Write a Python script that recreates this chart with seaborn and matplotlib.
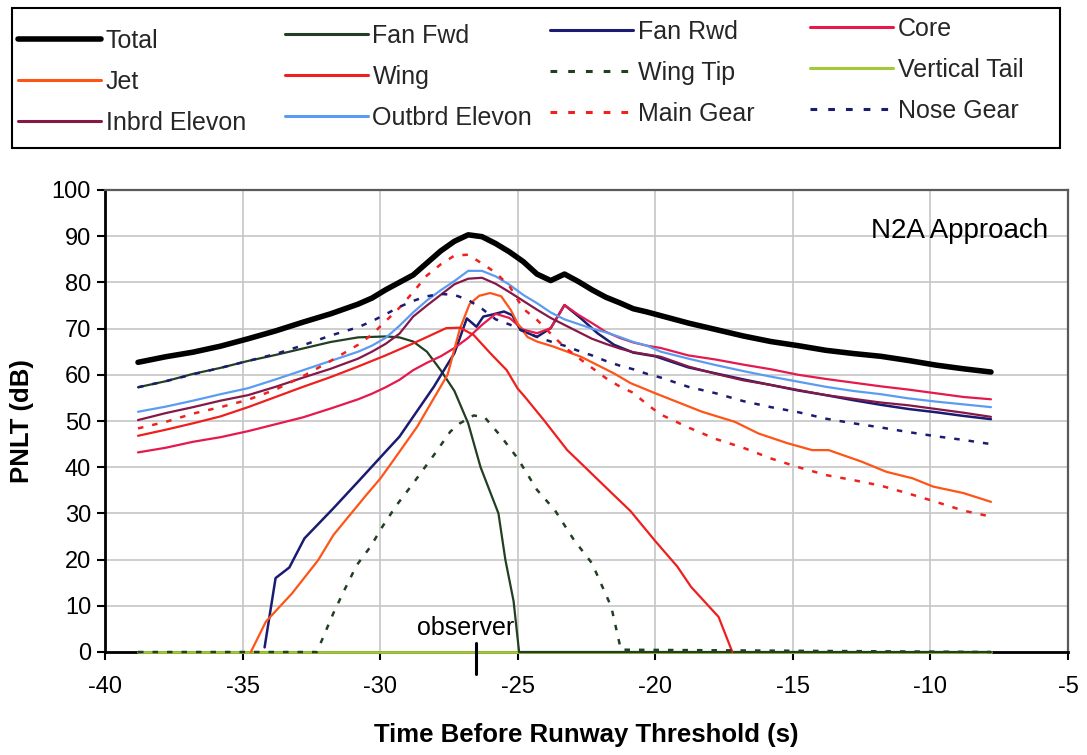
import matplotlib
matplotlib.use("Agg")
import matplotlib.pyplot as plt
from matplotlib.patches import Rectangle
import seaborn as sns

# ---------------------------------------------------------------- data
# shared time base (s before runway threshold)
time_s = [-38.8, -37.8, -36.8, -35.8, -34.8, -33.8, -32.8, -31.8, -30.8,
          -30.3, -29.8, -29.3, -28.8, -28.3, -27.8, -27.3, -26.8, -26.3, -25.8, -25.3,
          -24.8, -24.3, -23.8, -23.3, -22.8, -22.3, -21.8, -21.3, -20.8, -20.3,
          -19.8, -18.8, -17.8, -16.8, -15.8, -14.8, -13.8, -12.8, -11.8, -10.8, -9.8, -8.8, -7.8]

total_db = [62.7, 63.9, 64.9, 66.2, 67.8, 69.5, 71.4, 73.2, 75.3,
            76.6, 78.4, 80.0, 81.6, 84.2, 86.8, 88.9, 90.3, 89.9, 88.4, 86.6,
            84.5, 81.8, 80.4, 81.8, 80.2, 78.4, 76.8, 75.6, 74.3, 73.6,
            72.8, 71.2, 69.8, 68.4, 67.2, 66.3, 65.3, 64.6, 64.0, 63.1, 62.1, 61.3, 60.6]

core_db = [43.2, 44.2, 45.5, 46.5, 47.8, 49.3, 50.8, 52.7, 54.7,
           55.9, 57.3, 58.9, 61.0, 62.6, 64.0, 65.8, 68.0, 70.8, 73.2, 72.3,
           69.8, 69.0, 70.1, 75.1, 73.0, 71.2, 69.3, 68.0, 67.0, 66.3,
           65.8, 64.2, 63.3, 62.2, 61.2, 60.0, 59.1, 58.3, 57.5, 56.8, 56.0, 55.2, 54.7]

inbrd_elevon_db = [50.2, 51.7, 53.0, 54.4, 55.6, 57.4, 59.4, 61.3, 63.5,
                   65.0, 66.7, 68.9, 72.6, 75.0, 77.3, 79.6, 80.8, 81.0, 79.7, 77.9,
                   76.0, 74.1, 72.3, 70.8, 69.3, 67.8, 66.7, 65.7, 64.9, 64.4,
                   63.9, 61.8, 60.2, 58.8, 57.8, 56.7, 55.6, 54.8, 54.0, 53.4, 52.6, 51.8, 50.9]

outbrd_elevon_db = [52.0, 53.1, 54.4, 55.8, 57.1, 59.0, 61.0, 63.0, 65.0,
                    66.3, 68.0, 70.6, 73.5, 76.1, 78.3, 80.3, 82.5, 82.5, 81.3, 79.5,
                    77.3, 75.5, 73.5, 72.0, 71.0, 70.0, 69.2, 68.2, 67.1, 66.3,
                    65.0, 63.5, 62.1, 60.8, 59.6, 58.5, 57.4, 56.5, 55.8, 54.9, 54.2, 53.6, 53.0]

main_gear_db = [48.4, 49.8, 51.6, 53.0, 54.6, 56.8, 59.7, 63.0, 66.5,
                68.7, 71.6, 74.5, 77.9, 81.5, 83.9, 85.8, 86.0, 84.1, 82.1, 79.2,
                74.3, 71.9, 68.9, 66.0, 63.7, 61.5, 59.3, 57.5, 56.1, 53.6,
                51.4, 48.6, 46.1, 44.2, 41.9, 40.0, 38.3, 37.2, 36.0, 34.3, 32.5, 30.6, 29.3]

nose_gear_db = [57.3, 58.6, 60.1, 61.5, 63.0, 64.5, 66.4, 68.5, 70.3,
                71.6, 73.1, 74.7, 76.0, 77.0, 77.5, 77.3, 76.2, 74.3, 72.0, 70.9,
                69.5, 68.2, 67.2, 66.3, 65.2, 64.2, 63.0, 62.0, 61.2, 60.2,
                59.4, 57.4, 56.0, 54.3, 53.0, 51.9, 50.5, 49.5, 48.6, 47.6, 46.7, 45.9, 45.0]

vertical_tail_db = [0.0] * len(time_s)

# components with their own time samples
fan_fwd_t = [-38.8, -37.8, -36.8, -35.8, -34.8, -33.8, -32.8, -31.8, -30.8, -29.8, -29.3,
             -28.8, -28.3, -27.8, -27.3, -26.8, -26.35, -25.7, -25.45, -25.15, -24.95, -7.8]
fan_fwd_db = [57.3, 58.6, 60.2, 61.5, 63.0, 64.3, 65.7, 67.1, 68.1, 68.3, 68.1,
              67.2, 65.0, 61.0, 56.5, 49.5, 40.0, 30.0, 20.0, 11.0, 0.0, 0.0]

fan_rwd_t = [-34.2, -33.8, -33.3, -32.75, -31.7, -30.75, -29.75, -29.3, -28.05, -27.3,
             -26.85, -26.5, -26.25, -25.95, -25.5, -25.2, -24.9, -24.3, -23.8, -23.3,
             -22.7, -22.1, -21.5, -20.8, -20.0, -18.8, -17.8, -16.8, -15.8, -14.8,
             -13.8, -12.8, -11.8, -10.8, -9.8, -8.8, -7.8]
fan_rwd_db = [1.0, 16.0, 18.3, 24.6, 31.1, 37.2, 43.7, 46.6, 57.4, 64.7,
              72.2, 70.4, 72.6, 73.0, 73.7, 72.9, 69.7, 68.2, 70.1, 75.1,
              72.2, 69.0, 66.5, 64.8, 64.0, 61.6, 60.3, 59.0, 57.8, 56.6,
              55.6, 54.5, 53.5, 52.6, 51.9, 51.1, 50.4]

jet_t = [-34.7, -34.15, -33.2, -32.25, -31.7, -31.15, -30.5, -30.0, -29.6, -28.65,
         -27.55, -27.1, -26.75, -26.4, -26.0, -25.6, -25.25, -25.0, -24.65, -24.3,
         -23.7, -22.7, -21.5, -20.9, -20.0, -18.3, -17.1, -16.25, -15.2, -14.3,
         -13.7, -12.5, -11.6, -10.65, -9.9, -8.8, -7.8]
jet_db = [0.0, 6.6, 12.7, 19.9, 25.3, 29.3, 34.0, 37.5, 40.8, 48.8,
          60.0, 70.0, 75.3, 77.1, 77.7, 77.0, 74.0, 71.1, 68.2, 67.2,
          66.1, 63.9, 60.3, 58.2, 56.0, 52.0, 49.8, 47.3, 45.2, 43.7,
          43.7, 41.2, 39.0, 37.6, 35.8, 34.4, 32.5]

wing_t = [-38.8, -37.8, -36.8, -35.8, -34.8, -33.8, -32.8, -31.8, -30.8, -29.8,
          -28.8, -28.0, -27.6, -27.1, -26.6, -26.0, -25.4, -25.0, -24.75, -24.05,
          -23.2, -22.45, -21.6, -20.9, -20.0, -19.2, -18.7, -17.7, -17.2]
wing_db = [46.8, 48.1, 49.5, 51.0, 53.0, 55.2, 57.4, 59.5, 61.8, 64.2,
           66.8, 69.0, 70.1, 70.2, 68.6, 64.7, 61.0, 57.0, 55.3, 50.2,
           43.7, 39.4, 34.5, 30.5, 24.0, 18.5, 14.1, 7.6, 0.0]

wing_tip_t = [-38.8, -32.3, -31.7, -31.3, -30.85, -30.35, -29.9, -29.4, -28.85, -28.05,
              -27.45, -27.1, -26.6, -26.2, -25.6, -25.0, -24.3, -23.65, -22.95, -22.3,
              -21.6, -21.25, -7.8]
wing_tip_db = [0.0, 0.0, 8.4, 13.4, 18.8, 22.8, 27.3, 31.8, 36.1, 42.6,
               47.7, 49.5, 51.2, 50.8, 46.6, 41.9, 35.1, 30.7, 24.2, 19.2,
               9.8, 0.5, 0.0]

x_ticks = [-40, -35, -30, -25, -20, -15, -10, -5]
y_ticks = [0, 10, 20, 30, 40, 50, 60, 70, 80, 90, 100]
observer_t = -26.5

# ---------------------------------------------------------------- style
sns.set_theme(style="white")
plt.rcParams["font.family"] = ["Liberation Sans", "DejaVu Sans"]
plt.rcParams["axes.unicode_minus"] = False

W, H = 1087, 755
fig = plt.figure(figsize=(W / 100, H / 100), dpi=100)
fig.patch.set_facecolor("white")
ax = fig.add_axes([105 / W, 1 - 652 / H, (1068 - 105) / W, (652 - 190) / H])

DOT = (0, (2.2, 3.6))
series = [
    # label, times, values, colour, width, style
    ("Vertical Tail", time_s, vertical_tail_db, "#a3c93a", 2.0, "-"),
    ("Total", time_s, total_db, "#000000", 4.0, "-"),
    ("Fan Fwd", fan_fwd_t, fan_fwd_db, "#213f22", 1.6, "-"),
    ("Fan Rwd", fan_rwd_t, fan_rwd_db, "#1b1b72", 1.8, "-"),
    ("Core", time_s, core_db, "#e5194c", 1.6, "-"),
    ("Jet", jet_t, jet_db, "#ff5418", 1.6, "-"),
    ("Wing", wing_t, wing_db, "#ee1f1c", 1.6, "-"),
    ("Wing Tip", wing_tip_t, wing_tip_db, "#213f22", 1.8, DOT),
    ("Inbrd Elevon", time_s, inbrd_elevon_db, "#861848", 1.6, "-"),
    ("Outbrd Elevon", time_s, outbrd_elevon_db, "#5b9cf2", 1.6, "-"),
    ("Main Gear", time_s, main_gear_db, "#f0201e", 1.8, DOT),
    ("Nose Gear", time_s, nose_gear_db, "#1b1b72", 1.8, DOT),
]

for label, t, v, col, lw, ls in series:
    sns.lineplot(x=t, y=v, ax=ax, color=col, linewidth=lw, linestyle=ls,
                 label=label, estimator=None, sort=False, legend=False,
                 zorder=3, clip_on=False)

ax.set_xlim(-40, -5)
ax.set_ylim(0, 100)
ax.set_xticks(x_ticks)
ax.set_xticklabels([str(v) for v in x_ticks])
ax.set_yticks(y_ticks)
ax.set_yticklabels([str(v) for v in y_ticks])
ax.grid(True, color="#c6c6c6", linewidth=1.2)
ax.set_axisbelow(True)

for side in ("left", "bottom"):
    ax.spines[side].set_color("black")
    ax.spines[side].set_linewidth(2.0)
for side in ("top", "right"):
    ax.spines[side].set_color("#5a5a5a")
    ax.spines[side].set_linewidth(1.6)

ax.tick_params(axis="both", direction="out", length=6, width=1.5, color="black",
               labelsize=17, labelcolor="black", bottom=True, left=True)
ax.tick_params(axis="x", pad=11)
ax.tick_params(axis="y", pad=4)

ax.set_xlabel("Time Before Runway Threshold (s)", fontsize=18.5, fontweight="bold",
              color="black")
ax.xaxis.set_label_coords(0.5, -0.18)
ax.xaxis.label.set_va("center")
ax.set_ylabel("PNLT (dB)", fontsize=18.5, fontweight="bold", color="black")
ax.yaxis.set_label_coords(-0.086, 0.5)
ax.yaxis.label.set_va("center")

ax.text(0.979, 0.896, "N2A Approach", transform=ax.transAxes, ha="right",
        va="baseline", fontsize=20, color="black")

# observer position marker
ax.plot([observer_t, observer_t], [2.0, -4.8], color="black", lw=2.2,
        clip_on=False, zorder=4)
ax.text(observer_t - 0.4, 3.6, "observer", ha="center", va="baseline",
        fontsize=18, color="black", zorder=4)

# ---------------------------------------------------------------- legend
handles = {line.get_label(): line for line in ax.get_lines()}
legend_cols = [
    ["Total", "Jet", "Inbrd Elevon"],
    ["Fan Fwd", "Wing", "Outbrd Elevon"],
    ["Fan Rwd", "Wing Tip", "Main Gear"],
    ["Core", "Vertical Tail", "Nose Gear"],
]
col_x = [18, 285, 550, 810]
col_top = [29, 24, 20, 17]
for names, x0, y0 in zip(legend_cols, col_x, col_top):
    leg = fig.legend([handles[n] for n in names], names, loc="upper left",
                     bbox_to_anchor=(x0 / W, 1 - y0 / H), frameon=False,
                     fontsize=18, handlelength=3.3, handletextpad=0.2,
                     labelspacing=0.68, borderpad=0, borderaxespad=0)
    for h in leg.legend_handles:
        h.set_linewidth(max(h.get_linewidth(), 2.2))

fig.add_artist(Rectangle((12 / W, 1 - 148 / H), (1060 - 12) / W, 140 / H,
                         transform=fig.transFigure, fill=False,
                         edgecolor="black", linewidth=1.5))

fig.savefig("out.png", dpi=100, facecolor="white")
